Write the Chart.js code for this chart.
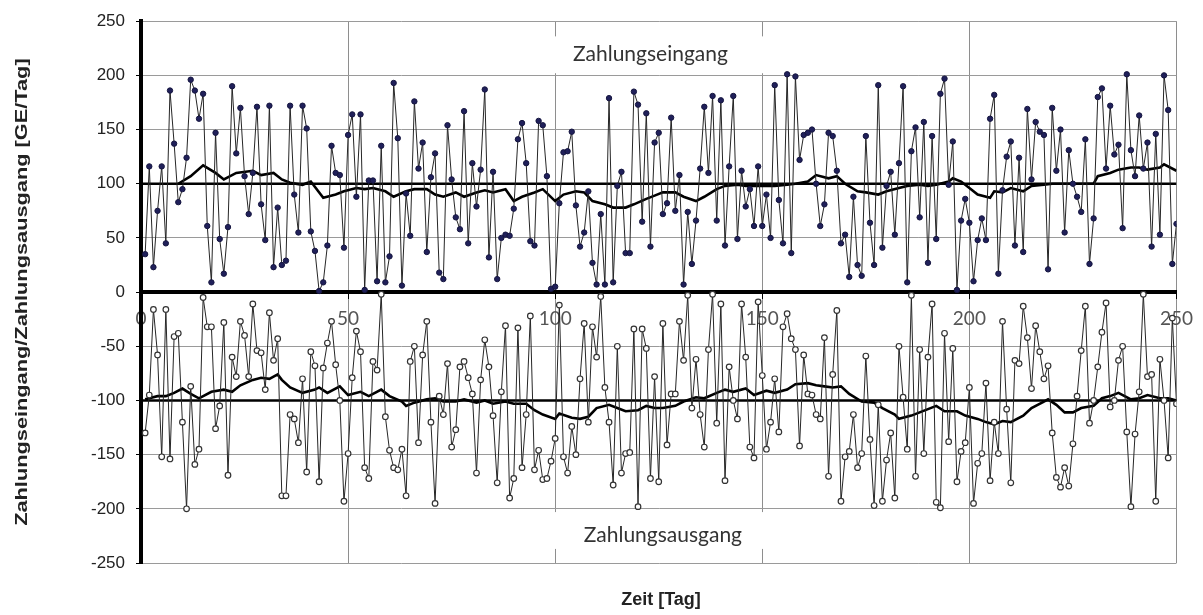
<!DOCTYPE html>
<html>
<head>
<meta charset="utf-8">
<title>Zahlungseingang / Zahlungsausgang</title>
<script src="https://cdn.jsdelivr.net/npm/chart.js@4.4.1/dist/chart.umd.min.js"></script>
<style>
  html, body { margin: 0; padding: 0; background: #fff; }
  #wrap { width: 1203px; height: 615px; }
</style>
</head>
<body>
<div id="wrap"><canvas id="cashChart" width="1203" height="615"></canvas></div>
<script>
// Tage 1..250
const days = Array.from({ length: 250 }, (_, i) => i + 1);

// Zahlungseingang [GE/Tag], Tag 1..250
const incomeVals = [
  35, 116, 23, 75, 116, 45, 186, 137, 83, 95,
  124, 196, 186, 160, 183, 61, 9, 147, 49, 17,
  60, 190, 128, 170, 107, 72, 110, 171, 81, 48,
  172, 23, 78, 25, 29, 172, 90, 55, 172, 151,
  56, 38, 1, 9, 43, 135, 110, 108, 41, 145,
  164, 88, 164, 2, 103, 103, 10, 135, 9, 33,
  193, 142, 6, 91, 52, 176, 114, 138, 37, 106,
  128, 18, 12, 154, 104, 69, 58, 167, 45, 119,
  79, 113, 187, 32, 111, 12, 50, 53, 52, 77,
  141, 156, 119, 47, 43, 158, 154, 107, 3, 5,
  82, 129, 130, 148, 80, 42, 55, 93, 27, 7,
  72, 7, 179, 9, 98, 111, 36, 36, 185, 173,
  65, 165, 42, 138, 147, 72, 82, 161, 75, 108,
  7, 74, 26, 66, 114, 171, 110, 181, 66, 177,
  43, 116, 181, 49, 112, 79, 95, 61, 116, 61,
  90, 50, 191, 85, 45, 201, 36, 199, 122, 145,
  147, 150, 100, 61, 81, 147, 144, 112, 45, 53,
  14, 88, 25, 15, 144, 64, 25, 191, 41, 98,
  111, 53, 119, 190, 9, 130, 152, 69, 157, 27,
  144, 49, 183, 197, 99, 139, 2, 66, 86, 64,
  10, 48, 68, 48, 160, 182, 17, 94, 125, 139,
  43, 124, 37, 169, 104, 157, 148, 145, 21, 170,
  112, 150, 55, 131, 100, 88, 74, 141, 26, 68,
  180, 188, 114, 172, 127, 136, 59, 201, 131, 107,
  163, 114, 138, 42, 146, 53, 200, 168, 26, 63
];

// Zahlungsausgang [GE/Tag], Tag 1..250
const payoutVals = [
  -130, -95, -16, -58, -152, -16, -154, -41, -38, -120,
  -200, -87, -159, -145, -5, -32, -32, -126, -105, -28,
  -169, -60, -78, -27, -40, -78, -11, -54, -56, -90,
  -19, -63, -43, -188, -188, -113, -117, -139, -80, -166,
  -55, -68, -175, -70, -47, -27, -67, -100, -193, -149,
  -79, -36, -55, -162, -172, -64, -72, -2, -115, -146,
  -162, -164, -145, -188, -64, -50, -139, -58, -27, -120,
  -195, -96, -113, -66, -143, -127, -69, -64, -79, -94,
  -167, -81, -44, -69, -114, -176, -92, -31, -190, -172,
  -33, -162, -113, -22, -164, -146, -173, -172, -156, -135,
  -12, -152, -167, -124, -150, -80, -29, -120, -32, -60,
  -4, -88, -120, -178, -50, -167, -149, -148, -34, -198,
  -34, -52, -172, -78, -175, -29, -141, -94, -94, -27,
  -63, -3, -107, -62, -113, -143, -53, -2, -121, -11,
  -174, -69, -100, -117, -11, -60, -143, -153, -9, -77,
  -145, -120, -80, -129, -32, -20, -43, -53, -142, -58,
  -94, -95, -113, -117, -42, -170, -76, -17, -193, -152,
  -147, -113, -162, -149, -59, -136, -197, -104, -193, -155,
  -130, -190, -50, -97, -145, -3, -170, -53, -149, -60,
  -11, -194, -199, -38, -138, -52, -175, -147, -139, -88,
  -195, -158, -149, -84, -174, -120, -149, -27, -108, -176,
  -63, -66, -13, -42, -89, -31, -55, -80, -68, -130,
  -171, -180, -162, -179, -140, -96, -54, -13, -121, -100,
  -69, -37, -10, -106, -100, -63, -50, -129, -198, -131,
  -92, -2, -78, -76, -193, -62, -100, -153, -24, -103
];

// gleitender Durchschnitt Eingang (dicke Linie)
const maInDays = [9, 12, 15, 18, 20, 23, 27, 29, 32, 34, 36, 39, 41, 44, 47, 49, 52, 54, 56, 59,
  61, 64, 66, 69, 71, 73, 76, 78, 81, 83, 85, 88, 90, 92, 95, 97, 100, 102, 105, 107,
  109, 112, 114, 117, 119, 122, 124, 126, 129, 131, 134, 136, 139, 141, 144, 146, 149, 151, 153, 156,
  158, 161, 163, 166, 168, 170, 173, 175, 178, 180, 183, 185, 188, 190, 192, 195, 196, 198, 200, 202,
  205, 206, 208, 210, 213, 215, 218, 220, 222, 225, 227, 230, 231, 234, 236, 239, 241, 243, 246, 247, 250];
const maInVals = [100, 107, 117, 110, 104, 110, 112, 108, 110, 104, 101, 99, 102, 87, 90, 93, 96, 95, 96, 93,
  88, 93, 95, 95, 90, 88, 92, 88, 92, 94, 92, 95, 84, 88, 92, 95, 84, 90, 93, 92,
  84, 81, 78, 78, 81, 86, 89, 92, 92, 88, 84, 88, 95, 98, 99, 98, 98, 98, 98, 99,
  100, 102, 108, 105, 107, 100, 93, 92, 90, 93, 96, 98, 99, 98, 99, 102, 105, 102, 96, 90,
  87, 93, 92, 96, 93, 98, 99, 100, 100, 100, 100, 100, 107, 110, 113, 115, 115, 113, 115, 118, 112];

// gleitender Durchschnitt Ausgang
const maOutDays = [1, 2, 4, 6, 8, 10, 12, 14, 17, 20, 22, 24, 27, 29, 31, 33, 34, 36, 39, 42,
  43, 45, 48, 50, 53, 55, 58, 60, 63, 64, 66, 69, 71, 73, 76, 78, 81, 83, 85, 88,
  90, 93, 95, 97, 100, 101, 104, 106, 108, 110, 113, 115, 117, 120, 122, 124, 126, 129, 131, 134,
  136, 139, 141, 143, 146, 148, 151, 153, 156, 158, 161, 163, 165, 167, 169, 171, 174, 177, 179, 182,
  183, 186, 188, 190, 192, 194, 197, 199, 202, 204, 206, 208, 210, 213, 215, 218, 219, 221, 223, 225,
  227, 230, 232, 234, 236, 239, 241, 243, 246, 248, 250];
const maOutVals = [-99, -98, -96, -96, -93, -89, -94, -98, -92, -90, -92, -86, -81, -79, -80, -76, -81, -88, -93, -90,
  -88, -93, -87, -95, -92, -96, -90, -96, -101, -105, -102, -99, -98, -101, -101, -99, -102, -100, -103, -101,
  -103, -103, -109, -113, -117, -112, -116, -117, -115, -107, -104, -107, -110, -109, -105, -107, -107, -105, -101, -97,
  -98, -93, -90, -92, -89, -95, -91, -93, -90, -85, -84, -86, -87, -88, -87, -94, -101, -102, -107, -113,
  -117, -114, -111, -108, -105, -110, -110, -114, -117, -120, -122, -119, -120, -114, -107, -101, -99, -104, -111, -111,
  -107, -105, -98, -96, -93, -99, -98, -95, -98, -98, -100];

// Sollwerte (dicke waagrechte Linien)
const refDays = [0, 250];
const refIn = 100;
const refOut = -100;

const xTicks = [0, 50, 100, 150, 200, 250];

const toPoints = (xs, ys) => xs.map((x, i) => ({ x: x, y: ys[i] }));

Chart.defaults.font.family = "'Liberation Sans', Arial, sans-serif";
Chart.defaults.color = '#222';

const notesPlugin = {
    id: 'notes',
    afterDraw(chart) {
        const ctx = chart.ctx;
        const xs = chart.scales.x;
        const ys = chart.scales.y;
        const area = chart.chartArea;
        ctx.save();
        // weisse Textfelder
        const boxes = [
            { text: 'Zahlungseingang', x: 123, base: 213, top: 236, bottom: 202 },
            { text: 'Zahlungsausgang', x: 126, base: -231, top: -203, bottom: -237 }
        ];
        boxes.forEach(b => {
            const l = xs.getPixelForValue(98.7);
            const r = xs.getPixelForValue(152.5);
            const t = ys.getPixelForValue(b.top);
            const btm = ys.getPixelForValue(b.bottom);
            ctx.fillStyle = '#fff';
            ctx.fillRect(l, t, r - l, btm - t);
            ctx.fillStyle = '#333';
            ctx.font = "21px Lato, 'Open Sans', sans-serif";
            ctx.textAlign = 'center';
            ctx.textBaseline = 'alphabetic';
            ctx.fillText(b.text, xs.getPixelForValue(b.x), ys.getPixelForValue(b.base));
        });
        // Achsentitel x
        ctx.fillStyle = '#222';
        ctx.font = "bold 18px 'Liberation Sans', Arial, sans-serif";
        ctx.textAlign = 'center';
        ctx.textBaseline = 'middle';
        ctx.fillText('Zeit [Tag]', 661, 600);
        // Achsentitel y (etwas gestreckt wie im Original)
        ctx.translate(22, (area.top + area.bottom) / 2);
        ctx.rotate(-Math.PI / 2);
        ctx.scale(1.28, 1);
        ctx.font = "bold 17px 'Liberation Sans', Arial, sans-serif";
        ctx.fillText('Zahlungseingang/Zahlungsausgang [GE/Tag]', 0, 0);
        ctx.restore();
    }
};

new Chart(document.getElementById('cashChart'), {
    type: 'line',
    data: {
        datasets: [
            {
                label: 'Zahlungseingang',
                data: toPoints(days, incomeVals),
                borderColor: '#262626',
                borderWidth: 1,
                pointRadius: 2.7,
                pointBackgroundColor: '#20205a',
                pointBorderColor: '#15153f',
                pointBorderWidth: 1
            },
            {
                label: 'Zahlungsausgang',
                data: toPoints(days, payoutVals),
                borderColor: '#262626',
                borderWidth: 1,
                pointRadius: 2.8,
                pointBackgroundColor: '#ffffff',
                pointBorderColor: '#333333',
                pointBorderWidth: 1.2
            },
            {
                label: 'Durchschnitt Eingang',
                data: toPoints(maInDays, maInVals),
                borderColor: '#000',
                borderWidth: 2.6,
                pointRadius: 0
            },
            {
                label: 'Durchschnitt Ausgang',
                data: toPoints(maOutDays, maOutVals),
                borderColor: '#000',
                borderWidth: 2.6,
                pointRadius: 0
            },
            {
                label: 'Soll Eingang',
                data: refDays.map(d => ({ x: d, y: refIn })),
                borderColor: '#000',
                borderWidth: 2.6,
                pointRadius: 0
            },
            {
                label: 'Soll Ausgang',
                data: refDays.map(d => ({ x: d, y: refOut })),
                borderColor: '#000',
                borderWidth: 2.6,
                pointRadius: 0
            }
        ]
    },
    options: {
        responsive: false,
        animation: false,
        devicePixelRatio: 1,
        layout: { padding: { left: 0, right: 25, top: 19, bottom: 52 } },
        plugins: {
            legend: { display: false },
            tooltip: { enabled: false }
        },
        scales: {
            x: {
                type: 'linear',
                min: 0,
                max: 250,
                position: { y: 0 },
                afterBuildTicks: (scale) => { scale.ticks = xTicks.map(v => ({ value: v })); },
                ticks: {
                    font: { family: "Lato, 'Open Sans', sans-serif", size: 19 },
                    color: '#555',
                    padding: 10,
                    maxRotation: 0,
                    autoSkip: false
                },
                grid: {
                    color: (c) => c.tick && c.tick.value === 0 ? 'rgba(0,0,0,0)' : '#8e8e8e',
                    lineWidth: 1,
                    tickColor: '#000',
                    tickLength: 5
                },
                border: { color: '#000', width: 4 }
            },
            y: {
                min: -250,
                max: 250,
                ticks: {
                    stepSize: 50,
                    font: { size: 17 },
                    color: '#222',
                    padding: 11
                },
                grid: {
                    color: (c) => c.tick && c.tick.value === 0 ? 'rgba(0,0,0,0)' : '#9a9a9a',
                    lineWidth: 1,
                    tickColor: '#000',
                    tickLength: 5
                },
                border: { color: '#000', width: 4 },
                afterFit: (scale) => { scale.width = 141; }
            }
        }
    },
    plugins: [notesPlugin]
});
</script>
</body>
</html>
